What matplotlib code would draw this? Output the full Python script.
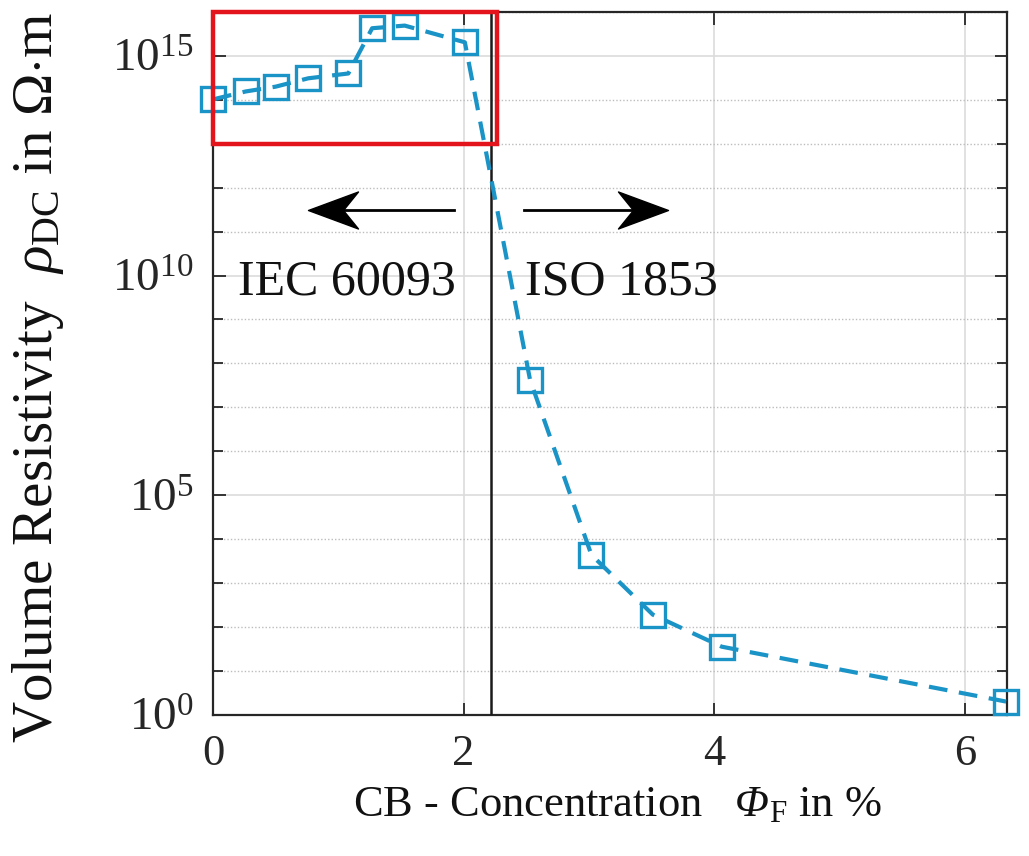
import numpy as np
import matplotlib
matplotlib.use("Agg")
import matplotlib.pyplot as plt
import matplotlib.patches as pth
from matplotlib.path import Path

plt.rcParams['font.family'] = ['Liberation Serif', 'DejaVu Serif']
plt.rcParams['mathtext.fontset'] = 'custom'
plt.rcParams['mathtext.rm'] = 'Liberation Serif'
plt.rcParams['mathtext.it'] = 'Liberation Serif:italic'
plt.rcParams['mathtext.sf'] = 'Liberation Serif:italic'  # used for the italic capital Phi

# data (log10 of resistivity)
cb_conc = [0.0, 0.26, 0.50, 0.76, 1.08, 1.27, 1.53, 2.01, 2.53, 3.02, 3.51, 4.06, 6.33]
log_rho = [14.01, 14.19, 14.30, 14.49, 14.60, 15.63, 15.69, 15.31, 7.63, 3.64, 2.28, 1.55, 0.30]
rho = [10 ** v for v in log_rho]

x_ticks = [0, 2, 4, 6]
y_major = [1e0, 1e5, 1e10, 1e15]
y_labels = ["$10^{0}$", "$10^{5}$", "$10^{10}$", "$10^{15}$"]

# annotation positions
x_split = 2.22
arrow_y = 10 ** 11.5
left_arrow = (1.92, 0.76)
right_arrow = (2.48, 3.63)

blue = '#1a93c6'
dark = '#262626'

fig = plt.figure(figsize=(10.29, 8.56), dpi=100)
ax = fig.add_axes([0.207, 0.165, 0.772, 0.821])

ax.plot(cb_conc, rho, color=blue, linestyle=(0, (4.5, 2.8)), linewidth=3.0,
        marker='s', markersize=17, markerfacecolor='none', markeredgewidth=2.4,
        zorder=4, clip_on=False)

ax.set_yscale('log')
ax.set_xlim(0, 6.34)
ax.set_ylim(1e0, 1e16)
ax.set_xticks(x_ticks)
ax.set_xticklabels([str(t) for t in x_ticks])
ax.set_yticks(y_major)
ax.set_yticklabels(y_labels)
ax.set_yticks([10.0 ** k for k in range(0, 17) if k % 5 != 0], minor=True)
ax.yaxis.set_minor_formatter(matplotlib.ticker.NullFormatter())

ax.grid(True, which='major', color='#dcdcdc', linewidth=1.2, linestyle='-')
ax.grid(True, which='minor', axis='y', color='#bdbdbd', linewidth=1.0, linestyle=(0, (1, 1.5)))
ax.set_axisbelow(True)

ax.tick_params(which='both', direction='in', top=True, right=True, colors=dark,
               labelsize=32, width=1.3)
ax.tick_params(which='major', length=9)
ax.tick_params(which='minor', length=7)
ax.tick_params(axis='x', pad=14)
ax.tick_params(axis='y', pad=14, labelsize=34)
for s in ax.spines.values():
    s.set_color(dark)
    s.set_linewidth(1.6)

# standard boundary
ax.axvline(x_split, color='#1a1a1a', linewidth=1.8, zorder=3)

# red highlight box
ax.add_patch(pth.Rectangle((0, 1e13), 2.27, 1e16 - 1e13, linewidth=3.2,
                           edgecolor='#e3141b', facecolor='none', zorder=5, clip_on=False))

# notched arrow heads
head_l = Path([(0, 0), (1, 0.37), (0.7, 0), (1, -0.37), (0, 0)],
              [Path.MOVETO, Path.LINETO, Path.LINETO, Path.LINETO, Path.CLOSEPOLY])
head_r = Path([(0, 0), (-1, 0.37), (-0.7, 0), (-1, -0.37), (0, 0)],
              [Path.MOVETO, Path.LINETO, Path.LINETO, Path.LINETO, Path.CLOSEPOLY])
ax.plot([left_arrow[0], left_arrow[1] + 0.1], [arrow_y, arrow_y], color='black', linewidth=2)
ax.plot([left_arrow[1]], [arrow_y], marker=head_l, markersize=72, color='black', linestyle='none')
ax.plot([right_arrow[0], right_arrow[1] - 0.1], [arrow_y, arrow_y], color='black', linewidth=2)
ax.plot([right_arrow[1]], [arrow_y], marker=head_r, markersize=72, color='black', linestyle='none')

ax.text(0.2, 10 ** 9.84, 'IEC 60093', fontsize=36, va='center', ha='left', color='#111111')
ax.text(2.49, 10 ** 9.84, 'ISO 1853', fontsize=36, va='center', ha='left', color='#111111')

ax.set_xlabel(r'CB - Concentration   $\mathsf{\Phi}_{\rm F}$ in %', fontsize=32, color='#111111')
ax.xaxis.set_label_coords(0.509, -0.10)
ax.set_ylabel(r'Volume Resistivity  $\rho_{\rm DC}$ in $\Omega{\cdot}$m', fontsize=41,
              color='#111111')
ax.yaxis.set_label_coords(-0.185, 0.48)

fig.savefig('out.png', dpi=100)
